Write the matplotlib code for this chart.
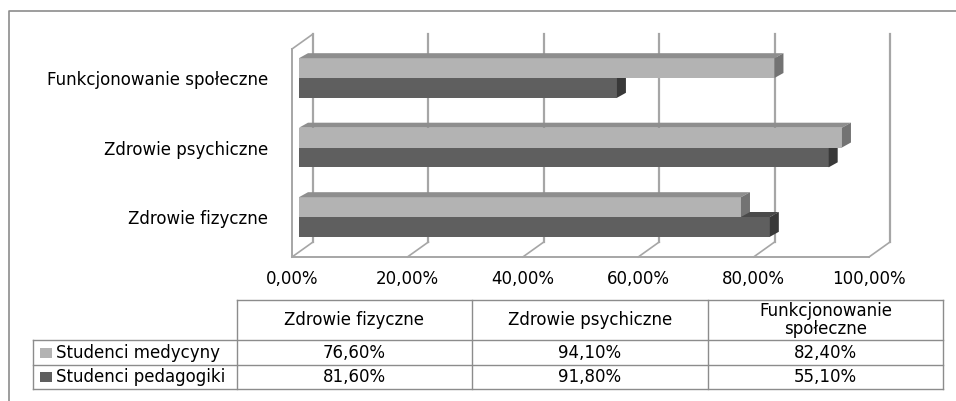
import matplotlib
matplotlib.use('Agg')
import matplotlib.pyplot as plt
from matplotlib.patches import Polygon

# Data
categories = ['Zdrowie fizyczne', 'Zdrowie psychiczne', 'Funkcjonowanie społeczne']
table_headers = ['Zdrowie fizyczne', 'Zdrowie psychiczne', 'Funkcjonowanie\nspołeczne']
series_names = ['Studenci medycyny', 'Studenci pedagogiki']
medycyny = [76.6, 94.1, 82.4]
pedagogiki = [81.6, 91.8, 55.1]
xticks = [0, 20, 40, 60, 80, 100]

light = {'front': '#b3b3b3', 'top': '#8e8e8e', 'side': '#737373'}
dark = {'front': '#5f5f5f', 'top': '#4a4a4a', 'side': '#393939'}
grid_col = '#a6a6a6'
line_col = '#8c8c8c'
fs = 12

W, H = 956, 401
fig = plt.figure(figsize=(W / 100, H / 100), dpi=100)


def px_rect(x0, y0, x1, y1):
    return [x0 / W, 1 - y1 / H, (x1 - x0) / W, (y1 - y0) / H]


# plot area: floor front edge from x=292 to 869 at y=257
ax = fig.add_axes(px_rect(292, 49, 869, 257))
px_x = 100 / 577.0       # data units per pixel in x
unit_y = 69.5            # pixels per category
ylo = -40 / unit_y
yhi = (217 - 49) / unit_y
ax.set_xlim(0, 100)
ax.set_ylim(ylo, yhi)
for s in ax.spines.values():
    s.set_visible(False)

# back wall offset and bar depth
bdx, bdy = 21 * px_x, 15 / unit_y
ddx, ddy = 9 * px_x, 5 / unit_y
x0 = 7 * px_x
h = 0.285

# walls and grid
for v in xticks:
    ax.plot([v + bdx, v + bdx], [ylo + bdy, yhi + bdy], color=grid_col, lw=1.6,
            clip_on=False, zorder=1)
    ax.plot([v, v + bdx], [ylo, ylo + bdy], color=grid_col, lw=1.2, clip_on=False, zorder=1)
ax.plot([0, 100], [ylo, ylo], color=grid_col, lw=1.4, clip_on=False, zorder=1)
ax.plot([0, 0], [ylo, yhi], color=grid_col, lw=1.4, clip_on=False, zorder=1)
ax.plot([0, bdx], [yhi, yhi + bdy], color=grid_col, lw=1.2, clip_on=False, zorder=1)


def bar3d(y0, val, c, z):
    x1 = x0 + val
    y1 = y0 + h
    ax.add_patch(Polygon([(x0, y0), (x1, y0), (x1, y1), (x0, y1)], closed=True,
                         facecolor=c['front'], edgecolor='none', zorder=z))
    ax.add_patch(Polygon([(x0, y1), (x0 + ddx, y1 + ddy), (x1 + ddx, y1 + ddy), (x1, y1)],
                         closed=True, facecolor=c['top'], edgecolor='none', zorder=z))
    ax.add_patch(Polygon([(x1, y0), (x1 + ddx, y0 + ddy), (x1 + ddx, y1 + ddy), (x1, y1)],
                         closed=True, facecolor=c['side'], edgecolor='none', zorder=z))


for i in range(len(categories)):
    bar3d(i - h, pedagogiki[i], dark, 3 + i * 2)
    bar3d(i, medycyny[i], light, 4 + i * 2)

ax.set_yticks(range(len(categories)))
ax.set_yticklabels(categories, fontsize=fs)
ax.set_xticks(xticks)
ax.set_xticklabels([('%.2f%%' % v).replace('.', ',') for v in xticks], fontsize=fs)
ax.tick_params(axis='y', length=0, pad=17)
ax.tick_params(axis='x', length=0, pad=9)

# overlay for border and data table
ov = fig.add_axes([0, 0, 1, 1])
ov.set_xlim(0, W)
ov.set_ylim(H, 0)
ov.axis('off')
ov.patch.set_visible(False)
ov.plot([9, 9, W], [H, 11, 11], color=line_col, lw=1.2)

cols = [33, 237, 472, 708, 943]
rows = [300, 340, 365, 389]
ov.plot([cols[1], cols[-1]], [rows[0], rows[0]], color=line_col, lw=1)
for r in rows[1:]:
    ov.plot([cols[0], cols[-1]], [r, r], color=line_col, lw=1)
ov.plot([cols[0], cols[0]], [rows[1], rows[-1]], color=line_col, lw=1)
for c in cols[1:]:
    ov.plot([c, c], [rows[0], rows[-1]], color=line_col, lw=1)

for j, hd in enumerate(table_headers):
    ov.text((cols[j + 1] + cols[j + 2]) / 2, (rows[0] + rows[1]) / 2, hd, ha='center',
            va='center', fontsize=fs, linespacing=1.0)

for k, (name, vals, c) in enumerate([(series_names[0], medycyny, light),
                                     (series_names[1], pedagogiki, dark)]):
    yc = (rows[k + 1] + rows[k + 2]) / 2
    ov.add_patch(plt.Rectangle((40, yc - 5), 12, 10, facecolor=c['front'], edgecolor='none'))
    ov.text(56, yc, name, ha='left', va='center', fontsize=fs)
    for j, v in enumerate(vals):
        ov.text((cols[j + 1] + cols[j + 2]) / 2, yc, ('%.2f%%' % v).replace('.', ','),
                ha='center', va='center', fontsize=fs)

fig.savefig('out.png', dpi=100)
